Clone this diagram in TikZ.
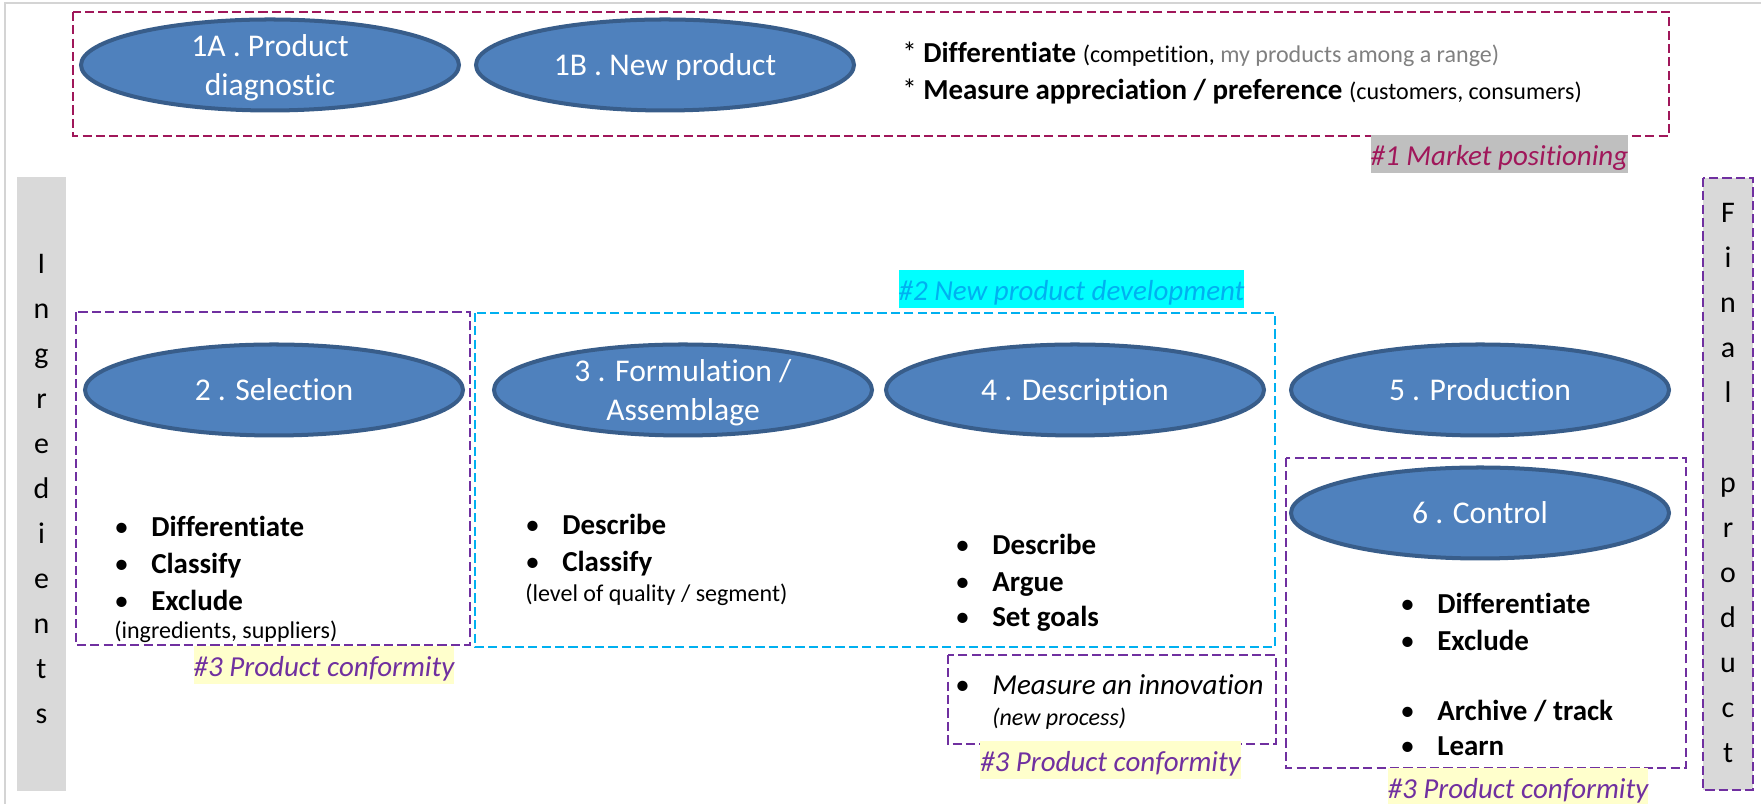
\documentclass[tikz,border=0pt]{standalone}
\usepackage{fontspec}
\setmainfont{Carlito}[Ligatures=NoCommon]
\usepackage{tikz}
\usetikzlibrary{shapes.geometric, positioning}
\usepackage{xcolor}
\definecolor{stageBlue}{RGB}{79, 129, 189}
\definecolor{stageEdge}{RGB}{56, 93, 138}
\definecolor{marketRed}{RGB}{160, 23, 90}
\definecolor{conformPurple}{RGB}{112, 48, 160}
\definecolor{devBlue}{RGB}{0, 176, 240}
\definecolor{devCyan}{RGB}{0, 255, 255}
\definecolor{barGray}{RGB}{217, 217, 217}
\definecolor{tagGray}{RGB}{191, 191, 191}
\definecolor{noteYellow}{RGB}{255, 255, 204}
\definecolor{frameGray}{RGB}{212, 212, 212}
\newcommand{\itemdot}{\makebox[0.925cm][l]{\textbullet}}
\newcommand{\smalltxt}{\fontsize{17.1}{20.8}\selectfont}

\begin{document}
\begin{tikzpicture}[
    stage/.style={ellipse, draw=stageEdge, fill=stageBlue, line width=2.85pt, minimum width=9.45cm, minimum height=2.275cm, inner sep=0pt, text depth=0pt, text=white, align=center, font=\fontsize{22.5}{27.7}\selectfont},
    group/.style={dash pattern=on 6.5pt off 3pt, line width=1.7pt},
    tag/.style={inner xsep=0pt, inner ysep=0pt, minimum height=0.95cm, text height=16pt, text depth=0pt, font=\fontsize{20.6}{25.25}\selectfont\itshape},
    list/.style={anchor=base west, inner sep=0pt, font=\fontsize{20.6}{26.3}\selectfont},
    letter/.style={anchor=base, inner sep=0pt, font=\fontsize{21.3}{26}\selectfont},
]
\useasboundingbox (0, 0) rectangle (44.025, 20.1);
\draw[frameGray, line width=1.4pt] (0.125, 0) -- (0.125, 20.025) -- (44.025, 20.025);

% side bars
\fill[barGray] (0.425, 15.675) rectangle (1.65, 0.325);
\fill[barGray] (42.575, 15.65) rectangle (43.825, 0.35);
\draw[group, conformPurple] (42.575, 15.65) rectangle (43.825, 0.35);
\foreach \ch [count=\i from 0] in {I,n,g,r,e,d,i,e,n,t,s}
    \node[letter] (ing\i) at (1.0375, 13.25-1.125*\i) {\ch};
\foreach \ch [count=\i from 0] in {F,i,n,a,l}
    \node[letter] (fin\i) at (43.2, 14.525-1.125*\i) {\ch};
\foreach \ch [count=\i from 6] in {p,r,o,d,u,c,t}
    \node[letter] (fin\i) at (43.2, 14.525-1.125*\i) {\ch};

% #1 market positioning
\draw[group, marketRed] (1.825, 19.8) rectangle (41.725, 16.7);
\node[stage] (diag) at (6.75, 18.475) {1A . Product\\diagnostic};
\node[stage] (newprod) at (16.625, 18.475) {1B . New product};
\node[list] (marketText) at (22.55, 18.5375) {\begin{tabular}[t]{@{}l@{}}
* \textbf{Differentiate} {\smalltxt (competition, \textcolor{gray}{my products among a range)}}\\
{*} \textbf{Measure appreciation / preference} {\smalltxt (customers, consumers)}
\end{tabular}};
\node[tag, fill=tagGray, text=marketRed] (tagMarket) at (37.4875, 16.25) {\#1 Market positioning};

% #2 new product development
\draw[group, conformPurple] (1.9, 12.3) rectangle (11.75, 3.975);
\draw[group, devBlue] (11.875, 12.275) rectangle (31.875, 3.925);
\node[tag, fill=devCyan, text=devBlue] (tagDev) at (26.7875, 12.875) {\#2 New product development};
\node[stage] (select) at (6.85, 10.35) {2 . Selection};
\node[stage] (formul) at (17.075, 10.35) {3 . Formulation /\\Assemblage};
\node[stage] (descr) at (26.875, 10.35) {4 . Description};
\node[stage] (produc) at (37, 10.35) {5 . Production};
\node[stage] (control) at (37, 7.275) {6 . Control};

\node[list] (listSel) at (2.85, 6.675) {\begin{tabular}[t]{@{}l@{}}
\itemdot\textbf{Differentiate}\\
\itemdot\textbf{Classify}\\
\itemdot\textbf{Exclude}\\[-6.4pt]
{\smalltxt (ingredients, suppliers)}
\end{tabular}};
\node[list] (listForm) at (13.125, 6.725) {\begin{tabular}[t]{@{}l@{}}
\itemdot\textbf{Describe}\\
\itemdot\textbf{Classify}\\[-5pt]
{\smalltxt (level of quality / segment)}
\end{tabular}};
\node[list] (listDescr) at (23.875, 6.225) {\begin{tabular}[t]{@{}l@{}}
\itemdot\textbf{Describe}\\
\itemdot\textbf{Argue}\\[-2pt]
\itemdot\textbf{Set goals}
\end{tabular}};

% #3 product conformity
\draw[group, conformPurple] (23.7, 3.725) rectangle (31.9, 1.5);
\draw[group, conformPurple] (32.15, 8.65) rectangle (42.15, 0.9);
\node[list] (listInno) at (23.875, 2.725) {\begin{tabular}[t]{@{}l@{}l@{}}
\itemdot & \textit{Measure an innovation}\\[-4.6pt]
& {\smalltxt\itshape (new process)}
\end{tabular}};
\node[list] (listCtrl) at (35, 4.75) {\begin{tabular}[t]{@{}l@{}}
\itemdot\textbf{Differentiate}\\
\itemdot\textbf{Exclude}\\
\\[-2.8pt]
\itemdot\textbf{Archive / track}\\[-1.4pt]
\itemdot\textbf{Learn}
\end{tabular}};
\node[tag, fill=noteYellow, text=conformPurple] (tagConfSel) at (8.1, 3.475) {\#3 Product conformity};
\node[tag, fill=noteYellow, text=conformPurple] (tagConfInno) at (27.7625, 1.0875) {\#3 Product conformity};
\node[tag, fill=noteYellow, text=conformPurple] (tagConfCtrl) at (37.95, 0.4125) {\#3 Product conformity};
\end{tikzpicture}
\end{document}
